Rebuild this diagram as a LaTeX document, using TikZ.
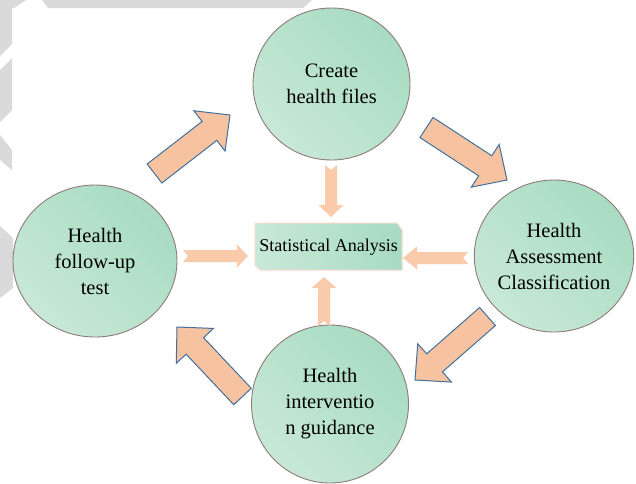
\documentclass[tikz,border=0pt]{standalone}
\usepackage{fontspec}
\setmainfont{Liberation Serif}
\usetikzlibrary{calc}
\definecolor{cgreenD}{HTML}{A8DCC2}
\definecolor{cgreenL}{HTML}{C8E8D7}
\definecolor{cedge}{HTML}{8E7C78}
\definecolor{cpeach}{HTML}{F6C2A0}
\definecolor{cpeachL}{HTML}{F9CBAB}
\definecolor{cblue}{HTML}{41719C}
\definecolor{cwm}{HTML}{DADADA}
\definecolor{cboxedge}{HTML}{F8DCC6}
\tikzset{
  phase/.style={ellipse, draw=cedge, line width=0.9pt, inner sep=0pt,
    top color=cgreenD, bottom color=cgreenL, shading angle=-45,
    align=center, font=\fontsize{20.5}{26}\selectfont},
  bigarrow/.style={fill=cpeach, draw=cblue, line width=1pt, line join=miter},
  smallarrow/.style={fill=cpeachL, draw=none},
  boxfill/.style={top color=cgreenD, bottom color=cgreenL, shading angle=-80, draw=cboxedge, line width=1pt},
  boxtext/.style={inner sep=0pt, font=\fontsize{18}{22}\selectfont},
  watermark/.style={fill=cwm, draw=none}
}
\usetikzlibrary{shapes.geometric}
% #1 style, #2 tail, #3 tip, #4 shaft half width, #5 head half width, #6 head length, #7 notch depth
\newcommand\blockarr[7]{%
  \coordinate (hb) at ($(#3)!#6!(#2)$);
  \path[#1] ($(#2)!#4!90:(#3)$) -- ($(hb)!#4!90:(#3)$) -- ($(hb)!#5!90:(#3)$) -- (#3)
    -- ($(hb)!#5!-90:(#3)$) -- ($(hb)!#4!-90:(#3)$) -- ($(#2)!#4!-90:(#3)$)
    -- ($(#2)!#7!(#3)$) -- cycle;
}
\begin{document}
\begin{tikzpicture}[x=1pt,y=-1pt]
\useasboundingbox (0,0) rectangle (636,483);
\fill[white] (0,0) rectangle (636,483);
% watermark remnants
\path[watermark] (42,0) -- (312,0) -- (303,8) -- (48,8) -- cycle;
\path[watermark] (0,0) -- (26,0) -- (14,8) -- (12,8) -- (12,44) -- (0,56) -- cycle;
\path[watermark] (0,70) -- (12,58) -- (12,110) -- (0,122) -- cycle;
\path[watermark] (0,135) -- (12,150) -- (12,170) -- (0,160) -- cycle;
\path[watermark] (0,226) -- (13,238) -- (13,288) -- (0,298) -- cycle;

% phases
\node[phase, minimum width=157pt, minimum height=152pt] (T) at (331.5,84) {Create\\health files};
\node[phase, minimum width=164pt, minimum height=152pt] (L) at (95,261) {Health\\follow-up\\test};
\node[phase, minimum width=158pt, minimum height=152pt] (R) at (554,256) {Health\\Assessment\\Classification};
\node[phase, minimum width=157pt, minimum height=158pt] (B) at (330,404) {Health\\interventio\\n guidance};

% statistical analysis box
\path[boxfill] (255,223) -- (397,223) -- (402,230) -- (402,270) -- (260,270) -- (255,265) -- cycle;
\node[boxtext] (S) at (328.5,247) {Statistical Analysis};

% big cycle arrows
\coordinate (a1t) at (154.5,173.5); \coordinate (a1h) at (230,115);
\coordinate (a2t) at (426.5,127.5); \coordinate (a2h) at (507,180);
\coordinate (a3t) at (487.5,316.5); \coordinate (a3h) at (415,380);
\coordinate (a4t) at (242.5,396.5); \coordinate (a4h) at (177,327);
\blockarr{bigarrow}{a1t}{a1h}{12pt}{25.5pt}{26pt}{0pt}
\blockarr{bigarrow}{a2t}{a2h}{12pt}{25.5pt}{26pt}{0pt}
\blockarr{bigarrow}{a3t}{a3h}{12pt}{25.5pt}{26pt}{0pt}
\blockarr{bigarrow}{a4t}{a4h}{12pt}{25.5pt}{26pt}{0pt}

% small arrows into the box
\coordinate (s1t) at (331,165); \coordinate (s1h) at (331,217);
\coordinate (s2t) at (183,256); \coordinate (s2h) at (248,256);
\coordinate (s3t) at (468,258); \coordinate (s3h) at (403,258);
\coordinate (s4t) at (324,326); \coordinate (s4h) at (324,277);
\blockarr{smallarrow}{s1t}{s1h}{6pt}{12.5pt}{12pt}{5pt}
\blockarr{smallarrow}{s2t}{s2h}{6pt}{11.5pt}{11pt}{5pt}
\blockarr{smallarrow}{s3t}{s3h}{6pt}{11.5pt}{14pt}{5pt}
\blockarr{smallarrow}{s4t}{s4h}{6pt}{12.5pt}{11pt}{5pt}
\end{tikzpicture}
\end{document}
